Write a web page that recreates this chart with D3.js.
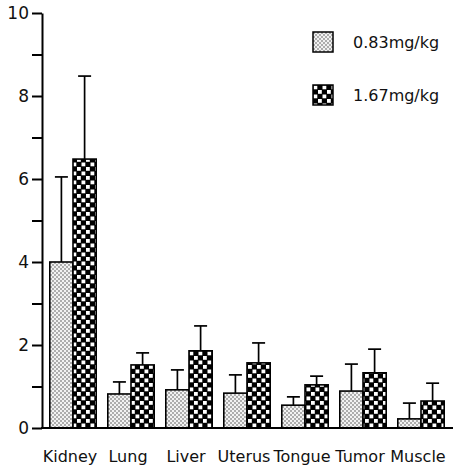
<!DOCTYPE html>
<html>
<head>
<meta charset="utf-8">
<script src="https://cdn.jsdelivr.net/npm/d3@7"></script>
<style>
  body { margin: 0; background: #fff; }
  svg { display: block; }
  text { font-family: "DejaVu Sans", sans-serif; fill: #111; }
</style>
</head>
<body>
<script>
// chart values
var categories = ["Kidney", "Lung", "Liver", "Uterus", "Tongue", "Tumor", "Muscle"];
var series = ["0.83mg/kg", "1.67mg/kg"];
var lowDose = [4.0, 0.82, 0.92, 0.84, 0.55, 0.89, 0.22];
var lowDoseErr = [2.05, 0.29, 0.48, 0.44, 0.2, 0.65, 0.38];
var highDose = [6.48, 1.52, 1.86, 1.57, 1.04, 1.33, 0.65];
var highDoseErr = [2.0, 0.29, 0.6, 0.48, 0.21, 0.57, 0.43];
var yTicks = [0, 1, 2, 3, 4, 5, 6, 7, 8, 9, 10];

var width = 458, height = 470;

var svg = d3.select("body")
  .append("svg")
    .attr("width", width)
    .attr("height", height);

/*
  fill patterns
*/
var defs = svg.append("defs");
var dots = defs.append("pattern")
    .attr("id", "dots")
    .attr("patternUnits", "userSpaceOnUse")
    .attr("width", 4)
    .attr("height", 4);
dots.append("rect").attr("width", 4).attr("height", 4).attr("fill", "#f2f2f2");
dots.append("circle").attr("cx", 1).attr("cy", 1).attr("r", 0.8).attr("fill", "#555");
dots.append("circle").attr("cx", 3).attr("cy", 3).attr("r", 0.8).attr("fill", "#555");

// checkerboard, one pattern cell = 2x2 squares
var checks = defs.append("pattern")
    .attr("id", "checks")
    .attr("patternUnits", "userSpaceOnUse")
    .attr("width", 9)
    .attr("height", 9);
checks.append("rect").attr("width", 9).attr("height", 9).attr("fill", "#000");
checks.append("rect").attr("x", 0.5).attr("y", 0.5).attr("width", 3.8).attr("height", 3.8).attr("fill", "#fff");
checks.append("rect").attr("x", 5).attr("y", 5).attr("width", 3.8).attr("height", 3.8).attr("fill", "#fff");

var fills = ["url(#dots)", "url(#checks)"];

/*
  scales
*/
var x = d3.scaleBand()
    .domain(categories)
    .range([44, 450])
    .paddingInner(0.2)
    .paddingOuter(0.1);

var xs = d3.scaleBand()
    .domain(series)
    .range([0, x.bandwidth()]);

var y = d3.scaleLinear()
    .domain([0, 10])
    .range([428, 13]);

var rows = [];
categories.forEach(function (c, i) {
  rows.push({cat: c, s: series[0], v: lowDose[i], e: lowDoseErr[i], k: 0});
  rows.push({cat: c, s: series[1], v: highDose[i], e: highDoseErr[i], k: 1});
});

/*
  error bars (behind the bars)
*/
var err = svg.append("g")
    .attr("stroke", "#000")
    .attr("stroke-width", 1.7);

err.selectAll(".stem")
  .data(rows)
  .enter()
  .append("line")
    .attr("x1", function (d) { return x(d.cat) + xs(d.s) + xs.bandwidth() / 2; })
    .attr("x2", function (d) { return x(d.cat) + xs(d.s) + xs.bandwidth() / 2; })
    .attr("y1", function (d) { return y(d.v); })
    .attr("y2", function (d) { return y(d.v + d.e); });

err.selectAll(".cap")
  .data(rows)
  .enter()
  .append("line")
    .attr("x1", function (d) { return x(d.cat) + xs(d.s) + xs.bandwidth() / 2 - 6.5; })
    .attr("x2", function (d) { return x(d.cat) + xs(d.s) + xs.bandwidth() / 2 + 6.5; })
    .attr("y1", function (d) { return y(d.v + d.e); })
    .attr("y2", function (d) { return y(d.v + d.e); });

/*
  bars
*/
svg.append("g")
  .selectAll("rect")
  .data(rows)
  .enter()
  .append("rect")
    .attr("x", function (d) { return x(d.cat) + xs(d.s); })
    .attr("y", function (d) { return y(d.v); })
    .attr("width", xs.bandwidth())
    .attr("height", function (d) { return y(0) - y(d.v); })
    .attr("fill", function (d) { return fills[d.k]; })
    .attr("stroke", "#000")
    .attr("stroke-width", 1.6);

/*
  axes
*/
var yAxis = d3.axisLeft(y)
    .tickValues(yTicks)
    .tickSize(10)
    .tickSizeOuter(0)
    .tickPadding(3)
    .tickFormat(function (d) { return d % 2 === 0 ? d : ""; });

var yg = svg.append("g")
    .attr("transform", "translate(42,0)")
    .call(yAxis);
yg.select(".domain").attr("stroke-width", 2);
yg.selectAll(".tick line").attr("stroke-width", 2);
yg.selectAll("text")
    .style("font-size", "17px")
    .attr("fill", "#111");

svg.append("line")
    .attr("x1", 41)
    .attr("x2", 453)
    .attr("y1", y(0))
    .attr("y2", y(0))
    .attr("stroke", "#000")
    .attr("stroke-width", 2);

var xg = svg.append("g")
    .attr("transform", "translate(-3," + y(0) + ")")
    .call(d3.axisBottom(x).tickSize(0).tickPadding(23));
xg.select(".domain").remove();
xg.selectAll("text")
    .style("font-size", "16px")
    .attr("fill", "#111");

/*
  legend
*/
var legend = svg.append("g")
  .selectAll("g")
  .data(series)
  .enter()
  .append("g")
    .attr("transform", function (d, i) { return "translate(313," + (32 + i * 53) + ")"; });

legend.append("rect")
    .attr("width", 20)
    .attr("height", 20)
    .attr("fill", function (d, i) { return fills[i]; })
    .attr("stroke", "#000")
    .attr("stroke-width", 1.5);

legend.append("text")
    .attr("x", 40)
    .attr("y", 16)
    .style("font-size", "16px")
    .text(function (d) { return d; });
</script>
</body>
</html>
